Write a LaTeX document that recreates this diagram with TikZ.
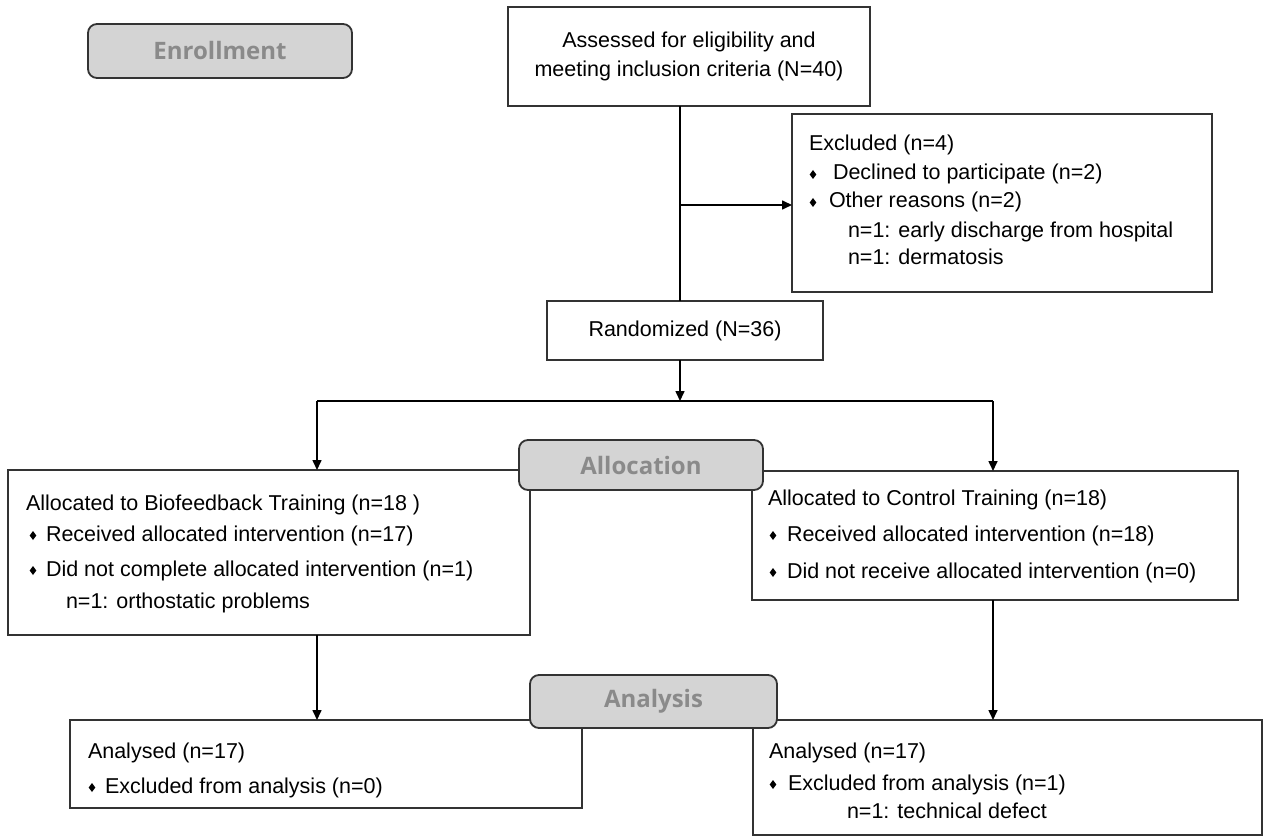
\documentclass[tikz,border=0pt]{standalone}
\usepackage{fontspec}
\setmainfont{Liberation Sans}
\newfontfamily\hdrfont{Open Sans}
\usetikzlibrary{arrows.meta}
\definecolor{hdrfill}{HTML}{D4D4D4}
\definecolor{hdrtext}{HTML}{8A8A8A}
\definecolor{edgecol}{HTML}{333333}
\begin{document}
\begin{tikzpicture}[x=1pt,y=-1pt,
  box/.style={draw=edgecol,line width=1.8pt,fill=white,inner sep=0,outer sep=0,align=center,font=\fontsize{21.5}{29}\selectfont},
  hdr/.style={draw=edgecol,line width=1.8pt,fill=hdrfill,rounded corners=9pt,text=hdrtext,inner sep=0,outer sep=0,font=\hdrfont\bfseries\fontsize{24}{28}\selectfont},
  txt/.style={anchor=base west,inner sep=0,outer sep=0,font=\fontsize{21.5}{26}\selectfont},
  conn/.style={draw=black,line width=1.6pt},
  arr/.style={conn,-{Triangle[length=10pt,width=9pt]}},
  bul/.pic={\fill (0,-4.5)--(3.3,0)--(0,4.5)--(-3.3,0)--cycle;}]
\useasboundingbox (0,0) rectangle (1264,837);
% boxes
\node[box,minimum width=362,minimum height=99] (assess) at (689,56.5) {Assessed for eligibility and\\meeting inclusion criteria (N=40)};
\node[box,minimum width=420,minimum height=178] (excl) at (1002,203) {};
\node[box,minimum width=276,minimum height=59] (rand) at (685,330.5) {Randomized (N=36)};
\node[box,minimum width=522,minimum height=165] (lbox) at (269,552.5) {};
\node[box,minimum width=486,minimum height=129] (rbox) at (995,535.5) {};
\node[box,minimum width=512,minimum height=88] (blbox) at (326,764) {};
\node[box,minimum width=509,minimum height=115] (brbox) at (1007.5,777.5) {};
% helper coordinates
\coordinate (trunk) at (680,205);
\coordinate (split) at (680,401);
\coordinate (lx) at (317,0);
\coordinate (rx) at (993,0);
% connectors
\draw[conn] (assess.south -| trunk) -- (rand.north -| trunk);
\draw[arr] (trunk) -- (excl.west |- trunk);
\draw[arr] (rand.south -| split) -- (split);
\draw[conn] (split -| lx) -- (split -| rx);
\draw[arr] (split -| lx) -- (lbox.north -| lx);
\draw[arr] (split -| rx) -- (rbox.north -| rx);
\draw[arr] (lbox.south -| lx) -- (blbox.north -| lx);
\draw[arr] (rbox.south -| rx) -- (brbox.north -| rx);
% headers
\node[hdr,minimum width=264,minimum height=54] (enroll) at (220,51) {Enrollment};
\node[hdr,minimum width=244,minimum height=50] (alloc) at (641,465) {Allocation};
\node[hdr,minimum width=247,minimum height=53] (anal) at (653.5,701.5) {Analysis};
% excluded text
\node[txt] (x1) at (809,151) {Excluded (n=4)};
\pic at (813,174.5) {bul};
\node[txt] (x2) at (833,180) {Declined to participate (n=2)};
\pic at (813,202.5) {bul};
\node[txt] (x3) at (829,208) {Other reasons (n=2)};
\node[txt] (x4) at (848,237) {n=1: early discharge from hospital};
\node[txt] (x5) at (848,265) {n=1: dermatosis};
% left allocation text
\node[txt] (l1) at (26,510) {Allocated to Biofeedback Training (n=18 )};
\pic at (33,535.5) {bul};
\node[txt] (l2) at (46,541) {Received allocated intervention (n=17)};
\pic at (33,570.5) {bul};
\node[txt] (l3) at (46,576) {Did not complete allocated intervention (n=1)};
\node[txt] (l4) at (66,608) {n=1: orthostatic problems};
% right allocation text
\node[txt] (r1) at (768,505) {Allocated to Control Training (n=18)};
\pic at (773,535.5) {bul};
\node[txt] (r2) at (787,541) {Received allocated intervention (n=18)};
\pic at (773,572.5) {bul};
\node[txt] (r3) at (787,578) {Did not receive allocated intervention (n=0)};
% bottom left text
\node[txt] (b1) at (88,758) {Analysed (n=17)};
\pic at (92,787.5) {bul};
\node[txt] (b2) at (105,793) {Excluded from analysis (n=0)};
% bottom right text
\node[txt] (c1) at (769,758) {Analysed (n=17)};
\pic at (773,784.5) {bul};
\node[txt] (c2) at (788,790) {Excluded from analysis (n=1)};
\node[txt] (c3) at (847,818) {n=1: technical defect};
\end{tikzpicture}
\end{document}
